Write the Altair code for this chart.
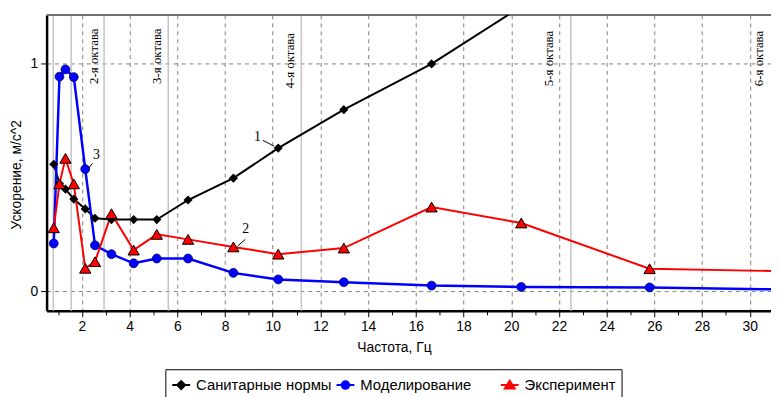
import altair as alt
import pandas as pd

# ---------------- data ----------------
FREQ = [0.82, 1.06, 1.31, 1.66, 2.14, 2.55, 3.24, 4.17, 5.14, 6.45, 8.35,
        10.23, 12.98, 16.66, 20.42, 25.8, 32.0]
SANITARY = [0.557, 0.472, 0.448, 0.404, 0.361, 0.320, 0.314, 0.314, 0.314, 0.400,
            0.496, 0.628, 0.797, 0.998, 1.25, 1.60, 2.00]
MODEL = [0.209, 0.942, 0.974, 0.940, 0.536, 0.201, 0.162, 0.122, 0.143, 0.143,
         0.080, 0.051, 0.039, 0.024, 0.018, 0.016, 0.006]
EXPERIMENT = [0.278, 0.471, 0.583, 0.471, 0.100, 0.129, 0.340, 0.180, 0.249, 0.227,
              0.194, 0.162, 0.189, 0.369, 0.299, 0.098, 0.086]

SERIES = ["Санитарные нормы", "Моделирование", "Эксперимент"]

OCTAVE_LINES = [0.80, 1.55, 2.93, 5.62, 11.2, 22.5]
OCTAVE_LABELS = ["2-я октава", "3-я октава", "4-я октава", "5-я октава", "6-я октава"]
OCTAVE_LABEL_F = [2.51, 5.14, 10.74, 21.6, 30.38]
OCTAVE_LABEL_A = [0.91, 0.91, 0.89, 0.90, 0.90]

NOTE_TEXT = ["1", "2", "3"]
NOTE_F = [9.36, 8.87, 2.61]
NOTE_A = [0.677, 0.271, 0.597]
LEADER_F1 = [9.59, 8.85, 2.44]
LEADER_A1 = [0.662, 0.227, 0.561]
LEADER_F2 = [10.05, 8.53, 2.27]
LEADER_A2 = [0.637, 0.198, 0.539]

X_DOMAIN = [0.52, 30.89]
Y_DOMAIN = [-0.087, 1.213]

W, H = 732, 299

# ---------------- tables ----------------
df_san = pd.DataFrame({"f": FREQ, "a": SANITARY})
df_mod = pd.DataFrame({"f": FREQ, "a": MODEL})
df_exp = pd.DataFrame({"f": FREQ, "a": EXPERIMENT})
df_oct = pd.DataFrame({"f": OCTAVE_LINES})
df_oct_lab = pd.DataFrame({"f": OCTAVE_LABEL_F, "a": OCTAVE_LABEL_A, "t": OCTAVE_LABELS})
df_note = pd.DataFrame({"f": NOTE_F, "a": NOTE_A, "t": NOTE_TEXT})
df_lead = pd.DataFrame({"f": LEADER_F1, "a": LEADER_A1, "f2": LEADER_F2, "a2": LEADER_A2})
df_top = pd.DataFrame({"f": [X_DOMAIN[0]], "f2": [X_DOMAIN[1]], "a": [Y_DOMAIN[1]]})
df_leg = pd.DataFrame({"f": [-10, -10, -10], "a": [0.5, 0.5, 0.5], "series": SERIES})

# ---------------- scales / axes ----------------
xs = alt.Scale(domain=X_DOMAIN, nice=False, zero=False)
ys = alt.Scale(domain=Y_DOMAIN, nice=False, zero=False)

x_axis = alt.Axis(
    values=[i / 2 for i in range(2, 62)],
    format="d",
    labelExpr="datum.value % 2 === 0 ? datum.label : ''",
    gridOpacity={"condition": {"test": "datum.value % 2 === 0", "value": 1}, "value": 0},
    tickSize={"condition": {"test": "datum.value % 2 === 0", "value": 6}, "value": 4},
    title="Частота, Гц",
    titleFontWeight="normal",
    titleFontSize=14,
    titleFont="Liberation Sans",
    titlePadding=7,
    titleX=351,
    labelFont="Liberation Sans",
    labelFontSize=14,
    labelPadding=3,
    labelFlush=False,
)
y_axis = alt.Axis(
    values=[0, 0.25, 0.5, 0.75, 1.0],
    format="d",
    labelExpr="datum.value % 1 === 0 ? datum.label : ''",
    gridOpacity={"condition": {"test": "datum.value % 0.5 === 0", "value": 1}, "value": 0},
    tickSize={"condition": {"test": "datum.value % 0.5 === 0", "value": 6}, "value": 4},
    title="Ускорение, м/с^2",
    titleFontWeight="normal",
    titleFontSize=14,
    titleFont="Liberation Sans",
    titleX=-30,
    titleY=161,
    titleBaseline="middle",
    titleAngle=270,
    labelFont="Liberation Sans",
    labelFontSize=14,
    labelPadding=3,
)

X = alt.X("f:Q", scale=xs, axis=x_axis)
Y = alt.Y("a:Q", scale=ys, axis=y_axis)

# ---------------- layers ----------------
octave_rules = alt.Chart(df_oct).mark_rule(color="#c4c4c4", strokeWidth=1.5).encode(x=X)

top_border = alt.Chart(df_top).mark_rule(color="#707070", strokeWidth=2).encode(
    x=X, x2="f2:Q", y=Y)

octave_text = alt.Chart(df_oct_lab).mark_text(
    angle=270, align="left", baseline="middle", font="Liberation Serif",
    fontSize=13, color="black").encode(x=X, y=Y, text="t:N")

line_san = alt.Chart(df_san).mark_line(color="black", strokeWidth=2, clip=True).encode(x=X, y=Y)
line_mod = alt.Chart(df_mod).mark_line(color="#0000ff", strokeWidth=2.5, clip=True).encode(x=X, y=Y)
line_exp = alt.Chart(df_exp).mark_line(color="#ff0000", strokeWidth=2, clip=True).encode(x=X, y=Y)

pt_san = alt.Chart(df_san).mark_point(
    shape="diamond", filled=True, color="black", size=85, opacity=1, clip=True
).encode(x=X, y=Y)
pt_mod = alt.Chart(df_mod).mark_point(
    shape="circle", filled=True, color="#0000ff", stroke="#000060", strokeWidth=0.8,
    size=80, opacity=1, clip=True
).encode(x=X, y=Y)
pt_exp = alt.Chart(df_exp).mark_point(
    shape="triangle-up", filled=True, color="#ff0000", stroke="black", strokeWidth=1,
    size=130, opacity=1, clip=True
).encode(x=X, y=Y)

notes = alt.Chart(df_note).mark_text(
    font="Liberation Serif", fontSize=14, color="black", align="center", baseline="middle"
).encode(x=X, y=Y, text="t:N")
leaders = alt.Chart(df_lead).mark_rule(color="black", strokeWidth=1).encode(
    x=X, y=Y, x2="f2:Q", y2="a2:Q")

legend = alt.Legend(
    title=None, orient="none", legendX=120, legendY=358, direction="horizontal",
    strokeColor="black", fillColor="white", padding=5, symbolSize=400,
    symbolStrokeWidth=2, labelFont="Liberation Sans", labelFontSize=15,
    labelOffset=4, columnPadding=0, gridAlign="all", labelLimit=400,
)
sym_paths = [
    "M-0.9,0L0.9,0M0,-0.4L0.4,0L0,0.4L-0.4,0Z",
    "M-0.9,0L0.9,0M-0.38,0A0.38,0.38,0,1,1,0.38,0A0.38,0.38,0,1,1,-0.38,0Z",
    "M-0.9,0L0.9,0M-0.5,0.34L0,-0.44L0.5,0.34Z",
]
leg_layer = alt.Chart(df_leg).mark_point(opacity=1, fillOpacity=1, strokeWidth=2, clip=True).encode(
    x=X, y=Y,
    fill=alt.Fill("series:N", scale=alt.Scale(domain=SERIES, range=["black", "#0000ff", "#ff0000"]), legend=legend),
    stroke=alt.Stroke("series:N", scale=alt.Scale(domain=SERIES, range=["black", "#0000ff", "#ff0000"]), legend=legend),
    shape=alt.Shape("series:N", scale=alt.Scale(domain=SERIES, range=sym_paths), legend=legend),
)

chart = alt.layer(
    octave_rules, top_border, octave_text,
    line_san, line_mod, line_exp,
    pt_san, pt_mod, pt_exp,
    leaders, notes, leg_layer,
).properties(
    width=W, height=H,
    autosize=alt.AutoSizeParams(type="none"),
    padding={"left": 39, "top": 5, "right": 0, "bottom": 85},
    background="white",
).configure_view(stroke=None).configure_axis(
    domainColor="black", domainWidth=2.5, tickColor="black", tickWidth=1,
    gridColor="#808080", gridDash=[4, 4], gridWidth=1, labelColor="black", titleColor="black",
)

chart.save("out.html", embed_options={"renderer": "svg", "actions": False})
